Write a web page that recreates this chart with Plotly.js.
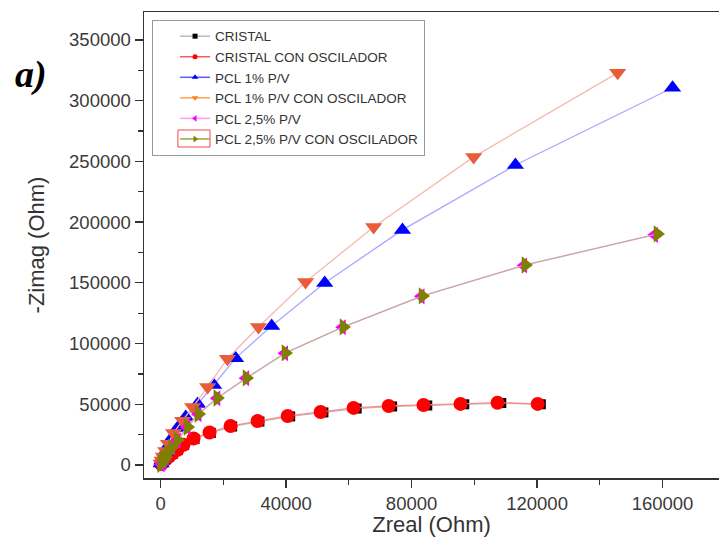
<!DOCTYPE html>
<html>
<head>
<meta charset="utf-8">
<script src="https://cdn.plot.ly/plotly-3.0.1.min.js"></script>
<style>html,body{margin:0;padding:0;background:#fff;}#chart{width:719px;height:537px;}</style>
</head>
<body>
<div id="chart"></div>
<script>
// Series names
const seriesNames = ["CRISTAL", "CRISTAL CON OSCILADOR", "PCL 1% P/V", "PCL 1% P/V CON OSCILADOR", "PCL 2,5% P/V", "PCL 2,5% P/V CON OSCILADOR"];

// CRISTAL
const cristalX = [121200, 108600, 96800, 85000, 73800, 62500, 51900, 41300, 31500, 22800, 16000, 10800, 7500, 5500, 3900, 2700, 1750, 1050, 520, 210];
const cristalY = [50000, 51000, 50000, 49000, 48200, 46500, 43300, 40000, 35800, 31700, 26400, 21400, 16400, 12300, 9300, 6800, 4900, 3100, 1700, 650];

// CRISTAL CON OSCILADOR
const cristalOscX = [120200, 107400, 95600, 83800, 72700, 61500, 51000, 40500, 30900, 22300, 15600, 10500, 7300, 5400, 3800, 2600, 1700, 1000, 500, 200];
const cristalOscY = [50300, 51300, 50300, 49400, 48600, 47000, 43700, 40400, 36200, 32100, 26800, 21800, 16700, 12600, 9500, 7000, 5000, 3200, 1800, 700];

// PCL 1% P/V
const pcl1X = [163200, 113100, 77100, 52300, 35400, 23900, 16900, 11800, 8000, 5400, 3500, 2300, 1400, 800, 400, 150];
const pcl1Y = [310600, 247000, 193600, 149900, 114500, 88000, 65900, 50200, 39500, 30500, 22000, 15500, 10500, 6500, 3500, 1200];

// PCL 1% P/V CON OSCILADOR
const pcl1OscX = [145700, 99800, 67900, 46200, 31200, 21300, 15000, 10200, 7000, 4100, 2500, 1600, 900, 450, 150];
const pcl1OscY = [322900, 253700, 196000, 150700, 113700, 87500, 64300, 47800, 36500, 26400, 17500, 11500, 7000, 3800, 1300];

// PCL 2,5% P/V
const pcl25X = [157400, 115700, 83000, 57900, 39500, 27100, 17900, 11900, 8400, 5300, 3500, 2300, 1450, 850, 420, 130];
const pcl25Y = [189500, 164300, 138900, 113400, 92000, 71400, 55000, 41800, 31100, 20400, 14300, 9800, 6300, 3600, 1700, 400];

// PCL 2,5% P/V CON OSCILADOR
const pcl25OscX = [158400, 116300, 83500, 58300, 39800, 27400, 18100, 12100, 8600, 5400, 3600, 2400, 1500, 900, 450, 150];
const pcl25OscY = [190300, 164700, 139200, 113700, 92300, 71700, 55200, 42000, 31300, 20600, 14500, 10000, 6500, 3800, 1800, 500];

const xTicks = [0, 40000, 80000, 120000, 160000];
const yTicks = [0, 50000, 100000, 150000, 200000, 250000, 300000, 350000];

const styles = [
  {mc: "#000000", lc: "#bdbdbd", sym: "square", size: 10, lsize: 5},
  {mc: "#ff0000", lc: "#ff8a8a", sym: "circle", size: 14, lsize: 5},
  {mc: "#0000ff", lc: "#a8a8ff", sym: "triangle-up", size: 15, lsize: 6},
  {mc: "#e95c3a", lc: "#f7b9ae", sym: "triangle-down", size: 15, lsize: 6},
  {mc: "#ff00ff", lc: "#ffb3ff", sym: "triangle-left", size: 14, lsize: 6},
  {mc: "#808000", lc: "#c4ae98", sym: "triangle-right", size: 15, lsize: 6}
];
const legendLines = ["#bdbdbd", "#ff5a5a", "#5a5aff", "#ffa050", "#ff9cff", "#a0a040"];
const legendMarkers = ["#000000", "#ff0000", "#0000ff", "#ff8020", "#ff00ff", "#808000"];

const dataX = [cristalX, cristalOscX, pcl1X, pcl1OscX, pcl25X, pcl25OscX];
const dataY = [cristalY, cristalOscY, pcl1Y, pcl1OscY, pcl25Y, pcl25OscY];

const traces = [];
for (let i = 0; i < 6; i++) {
  traces.push({
    x: dataX[i], y: dataY[i], type: "scatter", mode: "lines+markers",
    showlegend: false, name: seriesNames[i],
    line: {color: styles[i].lc, width: 1.3},
    marker: {symbol: styles[i].sym, size: styles[i].size, color: styles[i].mc, line: {width: 0}}
  });
}
for (let i = 0; i < 6; i++) {
  traces.push({
    x: [null], y: [null], type: "scatter", mode: "lines+markers",
    showlegend: true, name: seriesNames[i],
    line: {color: legendLines[i], width: 1.5},
    marker: {symbol: styles[i].sym, size: styles[i].lsize, color: legendMarkers[i], line: {width: 0}}
  });
}

const axisCommon = {
  showgrid: false, zeroline: false, showline: true, linecolor: "#333", linewidth: 1.5,
  mirror: true, ticks: "outside", ticklen: 8, tickwidth: 1.3, tickcolor: "#333",
  tickfont: {family: "Liberation Sans, Arial, sans-serif", size: 18.5, color: "#3a3a3a"},
  minor: {ticks: "outside", ticklen: 5, tickwidth: 1.3, tickcolor: "#333"}
};

const layout = {
  width: 719, height: 537,
  margin: {l: 144, r: 0, t: 12, b: 59},
  paper_bgcolor: "#fff", plot_bgcolor: "#fff",
  xaxis: Object.assign({}, axisCommon, {
    range: [-5300, 178000], tickmode: "array", tickvals: xTicks, ticktext: xTicks.map(String),
    minor: Object.assign({}, axisCommon.minor, {dtick: 20000, tick0: 0}),
    title: {text: "Zreal (Ohm)", font: {family: "Liberation Sans, Arial, sans-serif", size: 22, color: "#333"}, standoff: 8}
  }),
  yaxis: Object.assign({}, axisCommon, {
    range: [-10700, 373000], tickmode: "array", tickvals: yTicks, ticktext: yTicks.map(String),
    minor: Object.assign({}, axisCommon.minor, {dtick: 25000, tick0: 0}),
    title: {text: "-Zimag (Ohm)", font: {family: "Liberation Sans, Arial, sans-serif", size: 22, color: "#333"}, standoff: 18}
  }),
  legend: {
    x: 0.014, y: 0.983, xanchor: "left", yanchor: "top",
    bgcolor: "rgba(255,255,255,0)", bordercolor: "#999", borderwidth: 1,
    font: {family: "Liberation Sans, Arial, sans-serif", size: 13.5, color: "#333"},
    indentation: 22, tracegroupgap: 0
  },
  shapes: [{
    type: "rect", xref: "paper", yref: "paper",
    x0: 0.059, x1: 0.1148, y0: 0.7103, y1: 0.7468,
    line: {color: "#f04848", width: 1}, fillcolor: "rgba(0,0,0,0)"
  }],
  annotations: [{
    text: "<b><i>a)</i></b>", xref: "paper", yref: "paper", x: -0.197, y: 0.865,
    xanchor: "center", yanchor: "middle", showarrow: false,
    font: {family: "Liberation Serif, Times New Roman, serif", size: 38, color: "#000"}
  }]
};

Plotly.newPlot("chart", traces, layout, {displayModeBar: false, staticPlot: true});
</script>
</body>
</html>
